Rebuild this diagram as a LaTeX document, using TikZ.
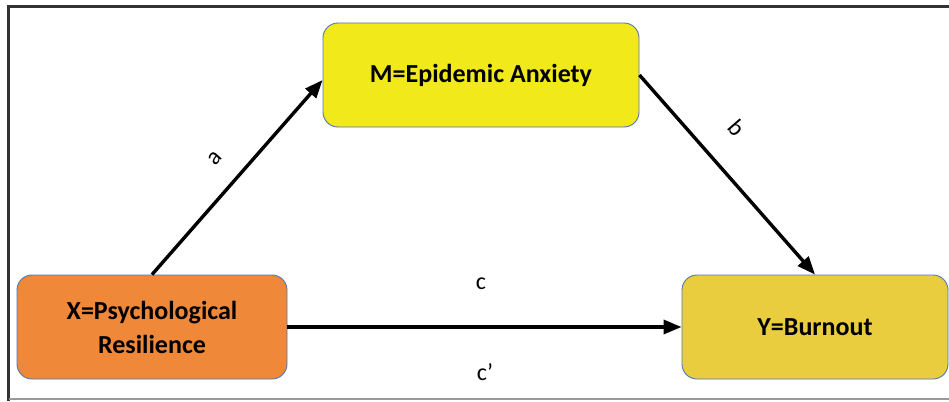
\documentclass[tikz,border=0pt]{standalone}
\usepackage{fontspec}
\setmainfont{Carlito}
\usetikzlibrary{arrows.meta,calc}
\definecolor{xorange}{HTML}{F0883A}
\definecolor{myellow}{HTML}{F1E919}
\definecolor{yyellow}{HTML}{EACC3F}
\definecolor{boxline}{HTML}{4F77B5}
\tikzset{
  box/.style={draw=boxline,line width=0.9pt,rounded corners=15pt,align=center,font=\fontsize{26}{34}\selectfont\bfseries,text=black},
  conn/.style={line width=3.4pt,-{Triangle[length=18pt,width=14pt]}},
  lab/.style={font=\fontsize{24}{28}\selectfont}
}
\begin{document}
\begin{tikzpicture}[x=1pt,y=-1pt]
\useasboundingbox (0,0) rectangle (949,401);
\fill[white] (0,0) rectangle (949,401);
% frame
\draw[line width=2.2pt,draw=black!80] (8.5,401) -- (8.5,6.5) -- (949,6.5);
\draw[line width=1.4pt,draw=black!40] (8.5,399) -- (949,399);
% boxes
\node[box,fill=xorange,minimum width=270pt,minimum height=104pt] (X) at (152,327) {X=Psychological\\Resilience};
\node[box,fill=myellow,minimum width=316pt,minimum height=104pt] (M) at (481,75) {M=Epidemic Anxiety};
\node[box,fill=yyellow,minimum width=266pt,minimum height=104pt] (Y) at (815,327) {Y=Burnout};
% connectors
\draw[conn] (X.north) -- ($(M.west)+(0,5)$);
\draw[conn] (M.east) -- (Y.north);
\draw[conn] (X.east) -- (Y.west);
% labels
\node[lab,rotate=48] (la) at (215,158) {a};
\node[lab,rotate=-49] (lb) at (737,128) {b};
\node[lab] (lc) at (481,284) {c};
\node[lab] (lcp) at (485,372) {c’};
\end{tikzpicture}
\end{document}
